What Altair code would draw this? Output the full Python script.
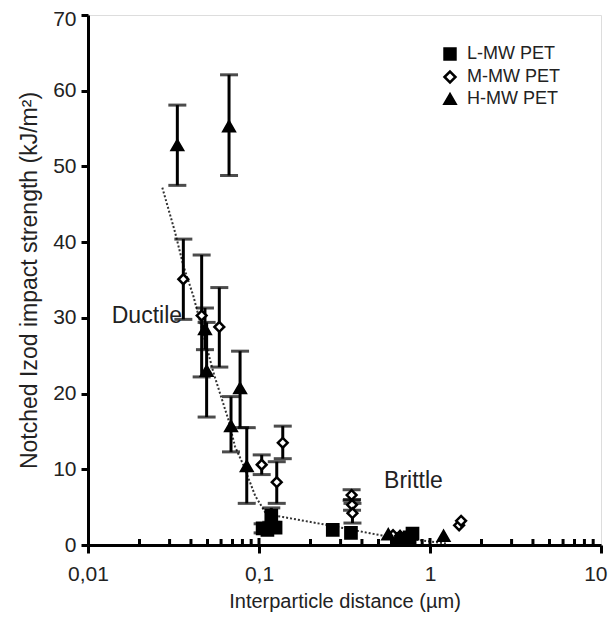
import altair as alt
import pandas as pd
import numpy as np

# ---- data ----
series_names = ["L-MW PET", "M-MW PET", "H-MW PET"]

l_x  = [0.105, 0.112, 0.118, 0.125, 0.270, 0.345, 0.640, 0.760, 0.790]
l_y  = [2.2,   2.0,   3.9,   2.3,   2.0,   1.6,   0.8,   1.0,   1.5]
l_lo = [1.6,   None,  3.0,   None,  None,  None,  None,  None,  None]
l_hi = [2.8,   None,  4.9,   None,  None,  None,  None,  None,  None]

m_x  = [0.0361, 0.0462, 0.0586, 0.1037, 0.127, 0.1377, 0.348, 0.350, 0.352, 0.608, 0.668, 1.48, 1.52]
m_y  = [35.1,   30.3,   28.8,   10.6,   8.3,   13.5,   6.6,   5.3,   4.2,   1.3,   1.2,   2.6,  3.2]
m_lo = [29.8,   22.2,   23.5,   9.3,    5.5,   11.4,   5.9,   4.6,   2.9,   None,  None,  None, None]
m_hi = [40.4,   38.3,   34.0,   11.9,   11.0,  15.7,   7.3,   6.0,   5.5,   None,  None,  None, None]

h_x  = [0.0333, 0.0668, 0.0483, 0.0494, 0.0775, 0.0686, 0.0848, 0.570, 0.668, 1.20]
h_y  = [52.8,   55.3,   28.5,   23.0,   20.7,   15.7,   10.4,   1.4,   1.1,   1.2]
h_lo = [47.5,   48.8,   25.8,   16.9,   15.5,   12.3,   5.5,    None,  None,  None]
h_hi = [58.1,   62.1,   31.3,   29.4,   25.6,   19.6,   15.5,   None,  None,  None]

trend_x = [0.0272, 0.0323, 0.0361, 0.0413, 0.0541, 0.0661, 0.0724, 0.0809, 0.095, 0.111, 0.138, 0.249, 0.446, 0.511, 1.25]
trend_y = [47.2,   41.3,   36.9,   32.9,   22.8,   16.6,   13.0,   10.6,   6.5,   4.0,   3.7,   2.65,  1.55,  1.3,   0.2]

x_major = [0.01, 0.1, 1, 10]
x_minor = [0.02, 0.03, 0.04, 0.05, 0.06, 0.07, 0.08, 0.09,
           0.2, 0.3, 0.4, 0.5, 0.6, 0.7, 0.8, 0.9,
           2, 3, 4, 5, 6, 7, 8, 9]
y_ticks = [0, 10, 20, 30, 40, 50, 60, 70]

notes_text = ["Ductile", "Brittle"]
notes_x = [0.0221, 0.80]
notes_y = [30.2, 8.4]

# ---- build tables ----
rows = []
for name, xs, ys, los, his in [
    ("L-MW PET", l_x, l_y, l_lo, l_hi),
    ("M-MW PET", m_x, m_y, m_lo, m_hi),
    ("H-MW PET", h_x, h_y, h_lo, h_hi),
]:
    for a, b, c, d in zip(xs, ys, los, his):
        rows.append({"series": name, "x": a, "y": b,
                     "lo": np.nan if c is None else c,
                     "hi": np.nan if d is None else d})
df = pd.DataFrame(rows)
df_err = df.dropna()
trend = pd.DataFrame({"x": trend_x, "y": trend_y})
minor = pd.DataFrame({"x": x_minor})
major_in = pd.DataFrame({"x": x_major[1:-1]})
notes = pd.DataFrame({"t": notes_text, "x": notes_x, "y": notes_y})

W, H = 513, 530
FONT = "Liberation Sans"
TXT = "#222"

xscale = alt.Scale(type="log", domain=[0.01, 10])
yscale = alt.Scale(domain=[0, 70])

xaxis = alt.Axis(values=x_major, labelExpr="replace(format(datum.value, '~g'), '.', ',')",
                 title="Interparticle distance (µm)", grid=False,
                 tickSize=8, tickWidth=3, domainWidth=3, domainColor="black", tickColor="black",
                 labelFontSize=21, titleFontSize=20, labelColor=TXT, titleColor=TXT,
                 labelFont=FONT, titleFont=FONT, titleFontWeight="normal",
                 labelPadding=10, titlePadding=7, labelFlush=False,
                 labelAlign=alt.condition("datum.value == 10", alt.value("right"), alt.value("center")),
                 labelOffset=alt.condition("datum.value == 10", alt.value(6), alt.value(0)))
yaxis = alt.Axis(values=y_ticks, title="Notched Izod impact strength (kJ/m²)", grid=False,
                 tickSize=7, tickWidth=3, domainWidth=3, domainColor="black", tickColor="black",
                 labelFontSize=21, titleFontSize=23, labelColor=TXT, titleColor=TXT,
                 labelFont=FONT, titleFont=FONT, titleFontWeight="normal",
                 labelPadding=5, titlePadding=11, labelFlush=False,
                 labelOffset=alt.condition("datum.value == 70", alt.value(4), alt.value(0)))

legend = alt.Legend(title=None, orient="none", legendX=353, legendY=30,
                    labelFontSize=18, labelFont=FONT, labelColor=TXT,
                    symbolSize=120, symbolStrokeWidth=2.5, rowPadding=1,
                    labelOffset=8)

trend_line = alt.Chart(trend).mark_line(color="#333", strokeWidth=2, strokeDash=[2, 2]).encode(
    x=alt.X("x:Q", scale=xscale, axis=xaxis),
    y=alt.Y("y:Q", scale=yscale, axis=yaxis),
)

err_rule = alt.Chart(df_err).mark_rule(color="black", strokeWidth=3).encode(
    x=alt.X("x:Q", scale=xscale), y=alt.Y("lo:Q", scale=yscale), y2="hi:Q")
cap_lo = alt.Chart(df_err).mark_tick(color="black", orient="horizontal", size=18, thickness=3).encode(
    x=alt.X("x:Q", scale=xscale), y=alt.Y("lo:Q", scale=yscale))
cap_hi = alt.Chart(df_err).mark_tick(color="black", orient="horizontal", size=18, thickness=3).encode(
    x=alt.X("x:Q", scale=xscale), y=alt.Y("hi:Q", scale=yscale))

pts = alt.Chart(df).mark_point(stroke="black", strokeWidth=2.5, opacity=1, filled=False).encode(
    x=alt.X("x:Q", scale=xscale),
    y=alt.Y("y:Q", scale=yscale),
    shape=alt.Shape("series:N",
                    scale=alt.Scale(domain=series_names, range=["square", "diamond", "triangle-up"]),
                    legend=legend),
    fill=alt.Fill("series:N",
                  scale=alt.Scale(domain=series_names, range=["black", "white", "black"]),
                  legend=legend),
    size=alt.condition("datum.series == 'M-MW PET'", alt.value(95), alt.value(125)),
)

minor_ticks = alt.Chart(minor).mark_rule(color="black", strokeWidth=3).encode(
    x=alt.X("x:Q", scale=xscale), y=alt.value(H), y2=alt.value(H - 6))
major_ticks = alt.Chart(major_in).mark_rule(color="black", strokeWidth=3).encode(
    x=alt.X("x:Q", scale=xscale), y=alt.value(H), y2=alt.value(H - 7))

labels = alt.Chart(notes).mark_text(fontSize=23, font=FONT, color=TXT).encode(
    x=alt.X("x:Q", scale=xscale), y=alt.Y("y:Q", scale=yscale), text="t:N")

chart = alt.layer(trend_line, err_rule, cap_lo, cap_hi, pts, minor_ticks, major_ticks, labels).properties(
    width=W, height=H,
    autosize=alt.AutoSizeParams(type="none"),
    padding={"left": 80, "top": 7, "right": 7, "bottom": 68},
).configure_view(stroke="black", strokeWidth=3).configure(background="white")

chart.save("out.html", embed_options={"renderer": "svg", "actions": False})
